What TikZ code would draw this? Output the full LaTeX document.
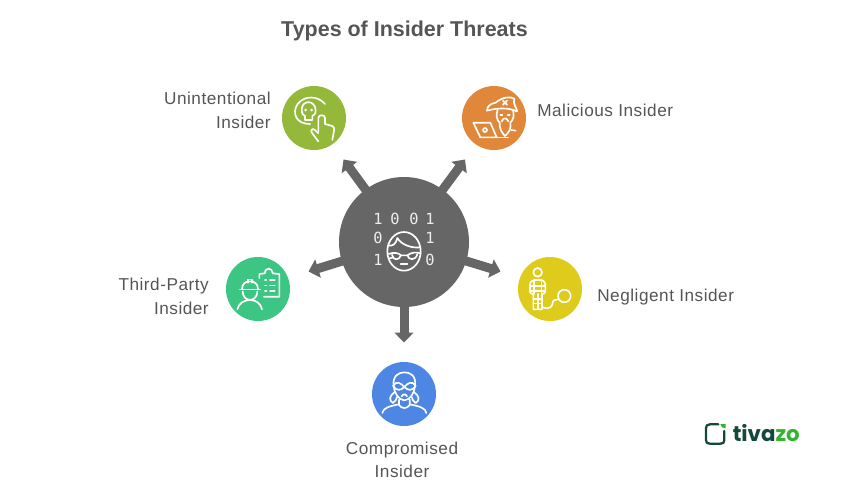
\documentclass[tikz,border=0pt]{standalone}
\usepackage{fontspec}
\setmainfont{Liberation Sans}
\newfontfamily\labfont[LetterSpace=3]{Liberation Sans}
\newfontfamily\digitfont{DejaVu Sans Mono}
\newfontfamily\logofont{Poppins}
\usetikzlibrary{arrows.meta}
\definecolor{txt}{HTML}{555555}
\definecolor{hub}{HTML}{666666}
\definecolor{cgreen}{HTML}{93B83A}
\definecolor{corange}{HTML}{E0873A}
\definecolor{cyellow}{HTML}{DFCB1B}
\definecolor{cmint}{HTML}{3DC583}
\definecolor{cblue}{HTML}{4D86E3}
\definecolor{logodark}{HTML}{14483A}
\definecolor{logogreen}{HTML}{2FB52F}
\tikzset{
  disc/.style={circle,inner sep=0pt,minimum size=64pt*0.75},
  lab/.style={text=txt,font=\labfont\fontsize{12.9pt}{16.5pt}\selectfont,inner sep=0pt},
  spoke/.style={draw=hub,line width=6.75pt,-{Triangle[length=7.5pt,width=14pt]}},
  ico/.style={draw=white,line width=1.25pt,line cap=round,line join=round},
  zoomed/.style={x=0.25pt,y=-0.25pt},
  dig/.style={text=white!88!hub,font=\digitfont\fontsize{11.5pt}{12pt}\selectfont,inner sep=0pt}
}
\begin{document}
\begin{tikzpicture}[x=0.75pt,y=-0.75pt]
\useasboundingbox (0,0) rectangle (850,494);
\node[text=txt,font=\bfseries\fontsize{16.1pt}{18pt}\selectfont,inner sep=0pt] (title) at (404.5,30.5) {Types of Insider Threats};
% hub and discs
\node[circle,fill=hub,inner sep=0pt,minimum size=97.5pt] (hub) at (404,242) {};
\node[disc,fill=cgreen] (unint) at (314,118) {};
\node[disc,fill=corange] (malic) at (494,118) {};
\node[disc,fill=cyellow] (neglig) at (550,289) {};
\node[disc,fill=cmint] (third) at (258,289) {};
\node[disc,fill=cblue] (comp) at (404,394) {};
% connector ends
\coordinate (tu) at (343.5,159.5);
\coordinate (tm) at (465,159.5);
\coordinate (tn) at (500.5,271.5);
\coordinate (tt) at (308.5,271.5);
\coordinate (tc) at (404,342.5);
\draw[spoke] (hub.center) -- (tu);
\draw[spoke] (hub.center) -- (tm);
\draw[spoke] (hub.center) -- (tn);
\draw[spoke] (hub.center) -- (tt);
\draw[spoke] (hub.center) -- (tc);
% labels
\node[lab,align=right,anchor=east] (lu) at (271,110.5) {Unintentional\\[1pt]Insider};
\node[lab,anchor=west] (lm) at (537,110.5) {Malicious Insider};
\node[lab,anchor=west] (ln) at (597,297) {Negligent Insider};
\node[lab,align=right,anchor=east] (lt) at (209,296.5) {Third-Party\\[1pt]Insider};
\node[lab,align=center] (lc) at (402,460) {Compromised\\[1pt]Insider};
% hub icon
\node[dig] (d1) at (378,219) {1};
\node[dig] (d2) at (395,219) {0};
\node[dig] (d3) at (414,219) {0};
\node[dig] (d4) at (430,219) {1};
\node[dig] (d5) at (378,238) {0};
\node[dig] (d6) at (430,238) {1};
\node[dig] (d7) at (378,260) {1};
\node[dig] (d8) at (430,260) {0};
\begin{scope}[shift={(330,150)},zoomed,ico]
  \draw[ico] (222,304) ellipse [x radius=50,y radius=58];
  \draw[ico] (174,286) .. controls (188,290) and (198,282) .. (202,264) .. controls (215,285) and (245,295) .. (270,292);
  \draw[ico] (176,312) .. controls (190,306) and (205,308) .. (213,316) -- (232,316) .. controls (245,306) and (260,306) .. (272,310);
  \draw[ico] (186,314) .. controls (188,332) and (208,332) .. (213,316);
  \draw[ico] (232,316) .. controls (236,332) and (258,332) .. (262,312);
  \draw[ico] (176,326) -- (190,322);
  \draw[ico] (212,342) -- (232,342);
\end{scope}
% unintentional icon
\begin{scope}[shift={(275,80)},zoomed]
  \draw[ico] (150,72) .. controls (128,46) and (88,46) .. (68,72) .. controls (50,98) and (62,132) .. (105,132);
  \draw[ico] (80,92) .. controls (78,58) and (122,58) .. (122,92) .. controls (122,102) and (116,106) .. (112,108) -- (112,120) -- (90,120) -- (90,108) .. controls (84,106) and (80,100) .. (80,92);
  \fill[white] (92,90) circle [radius=4.5];
  \fill[white] (110,90) circle [radius=4.5];
  \draw[ico] (130,154) -- (130,114) .. controls (130,103) and (150,103) .. (150,114) -- (150,132) -- (172,138) .. controls (178,140) and (178,146) .. (177,152) -- (172,180);
  \draw[ico] (130,160) -- (120,150) .. controls (112,142) and (104,152) .. (112,160) -- (130,184);
\end{scope}
% malicious icon
\begin{scope}[shift={(455,80)},zoomed]
  \draw[ico] (96,92) .. controls (96,78) and (108,70) .. (122,68) .. controls (140,52) and (165,48) .. (178,56) .. controls (176,64) and (176,70) .. (180,78) .. controls (184,84) and (186,88) .. (186,94) .. controls (160,82) and (125,84) .. (96,92);
  \draw[ico] (144,62) -- (156,74);
  \draw[ico] (156,62) -- (144,74);
  \draw[ico] (128,90) .. controls (122,105) and (125,120) .. (134,128) .. controls (132,145) and (142,160) .. (150,168) .. controls (160,160) and (170,145) .. (166,128) .. controls (176,118) and (178,105) .. (174,90);
  \draw[ico] (136,104) -- (142,104);
  \draw[ico] (158,104) -- (164,104);
  \draw[ico] (140,124) .. controls (146,112) and (154,112) .. (160,124);
  \draw[ico] (168,150) -- (182,152);
  \draw[ico] (55,128) -- (106,128) -- (125,172) -- (76,172) -- cycle;
  \draw[ico] (76,172) -- (160,172);
  \draw[ico] (90,150) circle [radius=6];
\end{scope}
% negligent icon
\begin{scope}[shift={(510,250)},zoomed]
  \draw[ico] (83,67) circle [radius=13];
  \draw[ico] (72,90) -- (94,90) .. controls (104,92) and (106,100) .. (106,110) -- (106,124) .. controls (106,130) and (100,132) .. (96,132) -- (96,178) -- (70,178) -- (70,132) .. controls (64,132) and (60,130) .. (60,124) -- (60,106) .. controls (60,96) and (64,92) .. (72,90);
  \draw[ico] (60,108) -- (106,108);
  \draw[ico] (60,122) -- (106,122);
  \draw[ico] (72,90) -- (72,132);
  \draw[ico] (94,90) -- (94,132);
  \draw[ico] (70,146) -- (96,146);
  \draw[ico] (70,160) -- (96,160);
  \draw[ico] (83,132) -- (83,178);
  \draw[ico] (98,172) .. controls (120,180) and (128,168) .. (128,158) .. controls (128,150) and (138,148) .. (146,148);
  \draw[ico] (163,138) circle [radius=19];
\end{scope}
% third-party icon
\begin{scope}[shift={(220,250)},zoomed]
  \draw[ico] (60,118) -- (120,118);
  \draw[ico] (66,118) .. controls (66,100) and (78,94) .. (90,94) .. controls (102,94) and (114,100) .. (114,118);
  \draw[ico] (84,98) -- (84,88) -- (96,88) -- (96,98);
  \draw[ico] (68,124) .. controls (68,158) and (112,158) .. (112,124);
  \draw[ico] (52,178) .. controls (56,160) and (72,150) .. (90,150) .. controls (108,150) and (122,160) .. (126,178);
  \draw[ico] (118,84) -- (118,72) -- (134,70) .. controls (136,60) and (140,56) .. (146,56) .. controls (152,56) and (156,60) .. (158,70) -- (178,72) -- (178,140) -- (132,140);
  \draw[ico] (135,90) -- (139,90); \draw[ico] (150,90) -- (164,90);
  \draw[ico] (135,106) -- (139,106); \draw[ico] (150,106) -- (164,106);
  \draw[ico] (135,123) -- (139,123); \draw[ico] (150,123) -- (164,123);
\end{scope}
% compromised icon
\begin{scope}[shift={(365,355)},zoomed]
  \draw[ico] (86,92) .. controls (82,62) and (102,52) .. (118,52) .. controls (136,52) and (154,62) .. (150,92) .. controls (150,112) and (134,136) .. (118,136) .. controls (102,136) and (86,112) .. (86,92);
  \draw[ico] (84,92) .. controls (95,76) and (108,84) .. (118,96) .. controls (128,84) and (141,76) .. (152,92) .. controls (141,110) and (128,106) .. (118,96) .. controls (108,106) and (95,110) .. (84,92);
  \draw[ico] (110,124) .. controls (114,116) and (122,116) .. (126,124);
  \draw[ico] (88,112) .. controls (74,122) and (70,136) .. (84,144) .. controls (92,140) and (94,132) .. (96,126);
  \draw[ico] (148,112) .. controls (162,122) and (166,136) .. (152,144) .. controls (144,140) and (142,132) .. (140,126);
  \draw[ico] (102,134) -- (102,150) .. controls (110,162) and (126,162) .. (134,150) -- (134,134);
  \draw[ico] (52,174) .. controls (54,160) and (70,154) .. (102,148);
  \draw[ico] (134,148) .. controls (166,154) and (182,160) .. (184,174);
\end{scope}
% logo
\begin{scope}[shift={(695,415)},zoomed]
  \draw[draw=logodark,line width=1.7pt,line cap=round,line join=round] (70,28) -- (45,28) .. controls (36,28) and (33,32) .. (33,40) -- (33,75) .. controls (33,84) and (36,86) .. (45,86) -- (76,86) .. controls (84,86) and (88,84) .. (88,75) -- (88,48);
  \fill[logogreen] (76,27) -- (92,27) -- (92,40) .. controls (84,40) and (76,36) .. (76,27) -- cycle;
\end{scope}
\node[inner sep=0pt,anchor=base west,font=\logofont\bfseries\fontsize{16pt}{16pt}\selectfont] (logo) at (732.5,441) {\textcolor{logodark}{tiva}\textcolor{logogreen}{zo}};
\end{tikzpicture}
\end{document}
